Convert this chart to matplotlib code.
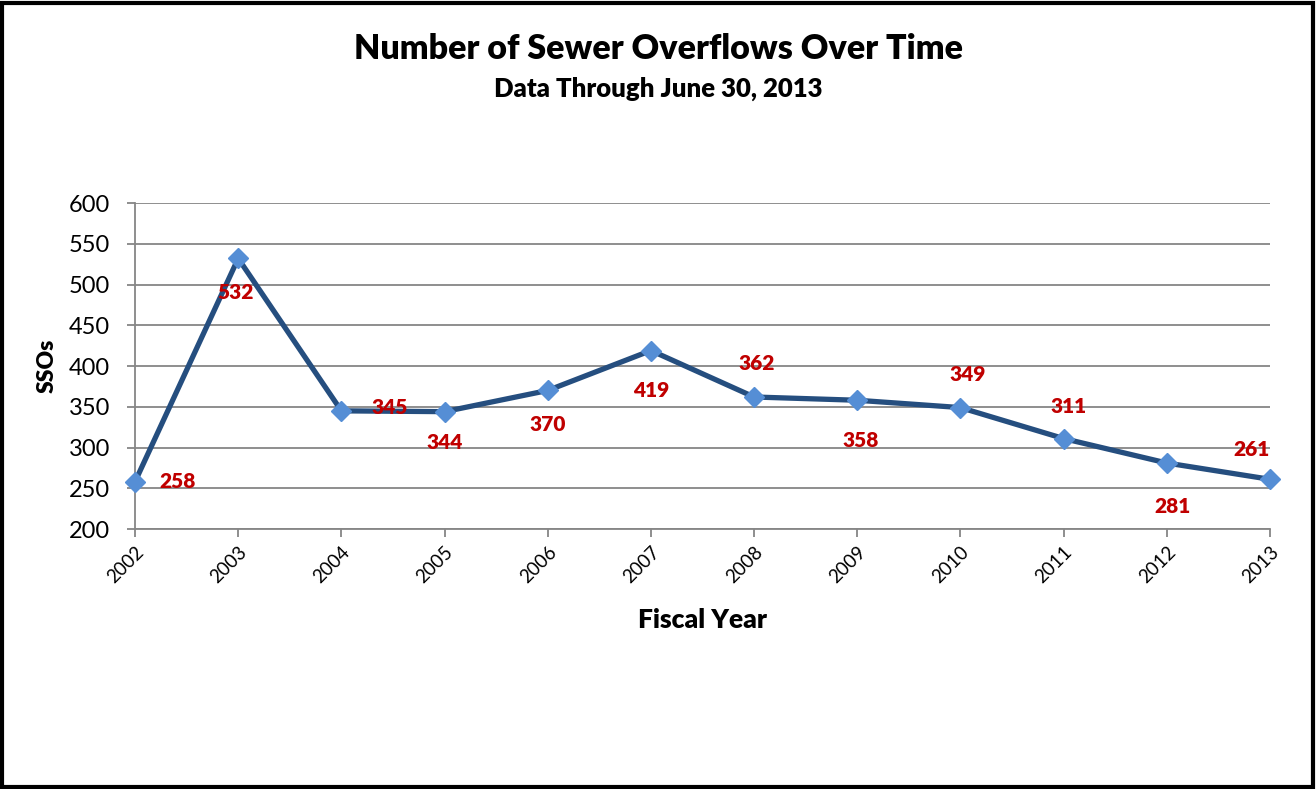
import matplotlib.pyplot as plt
from matplotlib.patches import Rectangle

years = [2002, 2003, 2004, 2005, 2006, 2007, 2008, 2009, 2010, 2011, 2012, 2013]
overflows = [258, 532, 345, 344, 370, 419, 362, 358, 349, 311, 281, 261]
# label offsets (pixels) from each point
label_dx = [43, -3, 48, 0, 0, 0, 3, 3, 7, 5, 6, -18]
label_dy = [0, -34, 3, -31, -34, -40, 33, -40, 33, 32, -43, 30]

plt.rcParams['font.family'] = ['Lato', 'DejaVu Sans']

fig = plt.figure(figsize=(13.16, 7.89), dpi=100)
ax = fig.add_axes([0.1026, 0.3295, 0.8624, 0.4132])

grid_color = '#868686'
ax.plot(years, overflows, color='#254E7F', lw=3.8, marker='D', ms=10,
        mfc='#558ED5', mec='#558ED5', zorder=3, clip_on=False)

for x, y, dx, dy in zip(years, overflows, label_dx, label_dy):
    ax.annotate(str(y), (x, y), xytext=(dx, dy), textcoords='offset pixels',
                ha='center', va='center', color='#C00000', fontsize=15,
                fontweight='heavy', zorder=4)

ax.set_xlim(2002, 2013)
ax.set_ylim(200, 600)
ax.set_yticks(range(200, 601, 50))
ax.set_xticks(years)
ax.set_xticklabels([str(y) for y in years], rotation=45, ha='right',
                   rotation_mode='anchor', fontsize=13.5)
ax.grid(axis='y', color=grid_color, lw=1.3)
ax.set_axisbelow(True)
for side in ['top', 'right']:
    ax.spines[side].set_visible(False)
for side in ['left', 'bottom']:
    ax.spines[side].set_color(grid_color)
    ax.spines[side].set_linewidth(1.3)
ax.tick_params(axis='y', length=6, color=grid_color, width=1.3, labelsize=17, pad=12)
ax.tick_params(axis='x', length=6, color=grid_color, width=1.3, pad=4)

ax.set_xlabel('Fiscal Year', fontsize=19, fontweight='heavy', labelpad=16)
ax.set_ylabel('SSOs', fontsize=16.5, fontweight='heavy', labelpad=8)

fig.text(0.5, 0.938, 'Number of Sewer Overflows Over Time', ha='center', va='center',
         fontsize=24.5, fontweight='heavy')
fig.text(0.5, 0.888, 'Data Through June 30, 2013', ha='center', va='center',
         fontsize=18.5, fontweight='heavy')

# chart border
fig.add_artist(Rectangle((0.0015, 0.002), 0.9965, 0.994, transform=fig.transFigure,
                         fill=False, edgecolor='black', lw=3))

fig.savefig('out.png', dpi=100)
